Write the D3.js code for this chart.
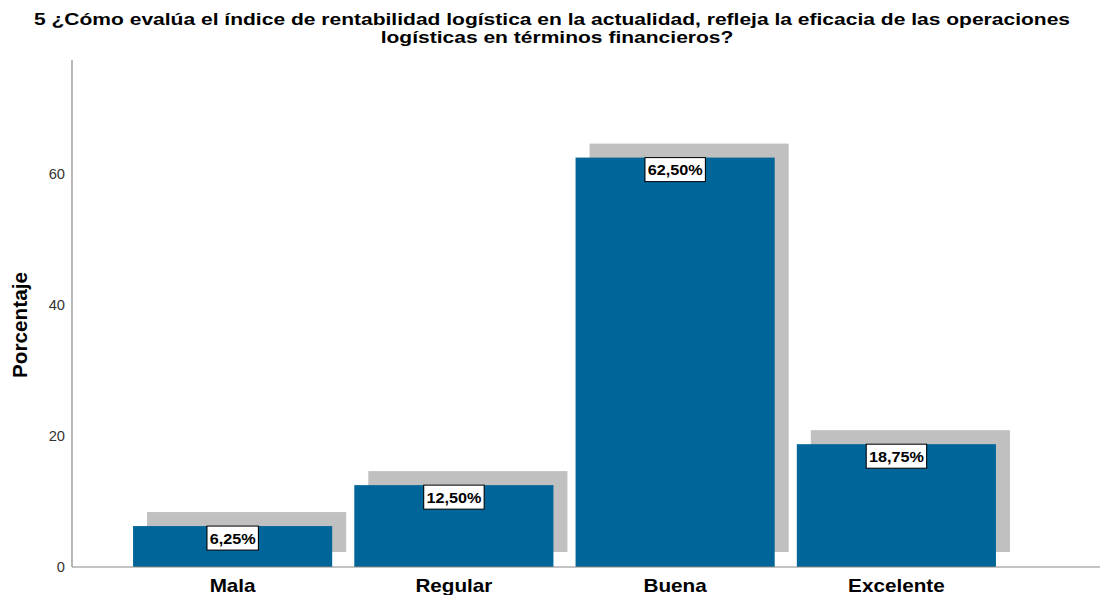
<!DOCTYPE html>
<html><head><meta charset="utf-8">
<script src="https://cdn.jsdelivr.net/npm/d3@7"></script>
<style>body{margin:0;background:#fff;}svg{display:block;font-family:"Liberation Sans",Arial,sans-serif;}</style>
</head><body><svg id="c" width="1112" height="595"></svg>
<script>
const categories = ["Mala", "Regular", "Buena", "Excelente"];
const values = [6.25, 12.5, 62.5, 18.75];
const valueLabels = ["6,25%", "12,50%", "62,50%", "18,75%"];
const yTicks = [0, 20, 40, 60];
const titleLines = ["5 ¿Cómo evalúa el índice de rentabilidad logística en la actualidad, refleja la eficacia de las operaciones", "logísticas en términos financieros?"];
const yTitle = "Porcentaje";

const svg = d3.select("#c");
const x0 = 72, yBase = 567, yTop = 60, xEnd = 1100;
const y = d3.scaleLinear().domain([0, 77.4]).range([yBase, yTop]);
const x = d3.scaleBand().domain(categories).range([122, 1007]).paddingInner(0.1).paddingOuter(0.05);

// horizontally stretched text helper
function sText(parent, str, cx, cy, size, sx, opts = {}) {
  const g = parent.append("g").attr("transform", `translate(${cx},${cy}) ${opts.rot ? "rotate(" + opts.rot + ")" : ""} scale(${sx},1)`);
  const t = g.append("text").attr("text-anchor", opts.anchor || "middle")
    .attr("font-size", size).attr("font-weight", opts.weight || "bold")
    .attr("fill", opts.fill || "#000").text(str);
  return {g, t};
}

// title
const t1 = sText(svg, titleLines[0], 552, 24.5, 16, 1, {});
const w1 = t1.t.node().getComputedTextLength();
const tsx = 1037 / w1;
t1.g.attr("transform", `translate(552,24.5) scale(${tsx},1)`);
sText(svg, titleLines[1], 557, 43, 16, tsx, {});

// shadows
const dx = 14, dy = 14;
svg.selectAll("rect.sh").data(values).join("rect")
  .attr("x",(d,i)=>x(categories[i])+dx).attr("width",x.bandwidth())
  .attr("y",d=>y(d)-dy).attr("height",d=>yBase-y(d)-1)
  .attr("fill","#c0c0c0");
svg.selectAll("rect.bar").data(values).join("rect")
  .attr("x",(d,i)=>x(categories[i])).attr("width",x.bandwidth())
  .attr("y",d=>y(d)).attr("height",d=>yBase-y(d))
  .attr("fill","#006598");

// axes
svg.append("line").attr("x1",x0).attr("x2",x0).attr("y1",yTop).attr("y2",yBase).attr("stroke","#888").attr("stroke-width",1.2);
svg.append("line").attr("x1",x0).attr("x2",xEnd).attr("y1",yBase).attr("y2",yBase).attr("stroke","#888").attr("stroke-width",1.2);

yTicks.forEach(d => {
  sText(svg, String(d), 65, y(d) + 5, 14, 1.05, {anchor: "end", weight: "normal", fill: "#333"});
});

// y title
const yt = sText(svg, yTitle, 27, 325, 20, 1, {rot: -90});
const wy = yt.t.node().getComputedTextLength();
yt.g.attr("transform", `translate(27,325) rotate(-90) scale(${106 / wy},1)`);

categories.forEach(c => {
  sText(svg, c, x(c) + x.bandwidth() / 2, 592, 18, 1.15, {});
});

// value labels
values.forEach((d, i) => {
  const cx = x(categories[i]) + x.bandwidth() / 2, cy = y(d) + 12;
  const lab = sText(svg, valueLabels[i], cx, cy, 15, 1.08, {});
  lab.t.attr("y", 5.5);
  const bb = lab.t.node().getBBox();
  lab.g.insert("rect", "text").attr("x", bb.x - 2.5).attr("y", -12).attr("width", bb.width + 5).attr("height", 24)
    .attr("fill", "#fff").attr("stroke", "#000").attr("stroke-width", 1);
});
</script></body></html>
